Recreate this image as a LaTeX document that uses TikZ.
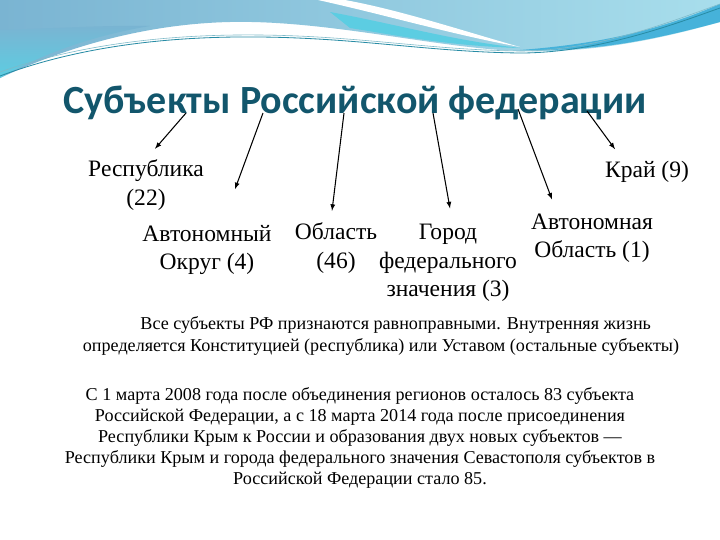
\documentclass[tikz,border=0pt]{standalone}
\usepackage{fontspec}
\setmainfont{Liberation Serif}
\newfontfamily\titlefont{Carlito}
\usetikzlibrary{calc}

\definecolor{titleteal}{RGB}{18,86,108}
\definecolor{bandsteel}{RGB}{122,180,210}
\definecolor{bandlight}{RGB}{168,222,236}
\definecolor{bandcyan}{RGB}{92,205,226}
\definecolor{banddeep}{RGB}{70,178,218}
\definecolor{bandline}{RGB}{40,140,165}

\begin{document}
\begin{tikzpicture}[x=0.85pt,y=-0.85pt,
	every node/.style={align=center,font=\fontsize{20}{24}\selectfont},
	small/.style={font=\fontsize{15.4}{18}\selectfont},
	arr/.style={-latex,line width=0.9pt}]
	\useasboundingbox (0,0) rectangle (720,540);
	\fill[white] (0,0) rectangle (720,540);
	\shade[left color=bandsteel,right color=bandlight] (0,0) -- (720,0) -- (720,22) .. controls (640,45) and (570,55) .. (500,50) .. controls (420,44) and (320,20) .. (230,22) .. controls (140,24) and (60,50) .. (0,78) -- cycle;
	\shade[top color=bandsteel,bottom color=bandcyan] (0,30) .. controls (60,28) and (110,25) .. (150,26) .. controls (90,36) and (40,55) .. (0,78) -- cycle;
	\fill[bandcyan] (330,12) .. controls (400,25) and (450,40) .. (520,48) .. controls (450,46) and (400,36) .. (350,28) -- cycle;
	\fill[banddeep] (520,50) .. controls (600,52) and (660,38) .. (720,22) -- (720,4) .. controls (660,30) and (600,44) .. (520,50) -- cycle;
	\fill[white] (318,0) .. controls (390,16) and (450,34) .. (520,47) .. controls (460,30) and (400,10) .. (345,0) -- cycle;
	\draw[bandline,line width=0.7pt] (0,76) .. controls (80,46) and (170,36) .. (260,37) .. controls (360,38) and (430,52) .. (520,53) .. controls (600,53) and (680,22) .. (720,8);
	\draw[bandline!60,line width=0.5pt] (0,72) .. controls (80,44) and (170,34) .. (260,35) .. controls (360,36) and (430,50) .. (520,51) .. controls (600,51) and (680,18) .. (720,4);

	\node(title) [anchor=base,font=\titlefont\bfseries\fontsize{34}{38}\selectfont,text=titleteal] at (355,113) {Субъекты Российской федерации};
	\node(rep) at (146,185) {Республика\\(22)};
	\node(ao) at (207,250) {Автономный\\Округ (4)};
	\node(obl) at (336,248) {Область\\(46)};
	\node(city) at (448,263) {Город\\федерального\\значения (3)};
	\node(aobl) at (592,238) {Автономная\\Область (1)};
	\node(kray) at (647,172) {Край (9)};
	\node(equal) [small] at (381,336) {\hspace*{25pt}Все субъекты РФ признаются равноправными. Внутренняя жизнь\\определяется Конституцией (республика) или Уставом (остальные субъекты)};
	\node(count) [small] at (360,438) {С 1 марта 2008 года после объединения регионов осталось 83 субъекта\\Российской Федерации, а с 18 марта 2014 года после присоединения\\Республики Крым к России и образования двух новых субъектов —\\Республики Крым и города федерального значения Севастополя субъектов в\\Российской Федерации стало 85.};

	\coordinate(t1) at (186,113);
	\coordinate(t2) at (263,113);
	\coordinate(t3) at (344,113);
	\coordinate(t4) at (433,113);
	\coordinate(t5) at (518,109);
	\coordinate(t6) at (587,111);

	\draw[arr] (t1) --($(rep.north)+(9,-7)$);
	\draw[arr] (t2) --($(ao.north)+(28,-32)$);
	\draw[arr] (t3) --($(obl.north)+(-4,-8)$);
	\draw[arr] (t4) --($(city.north)+(2,-12)$);
	\draw[arr] (t5) --($(aobl.north)+(-40,-10)$);
	\draw[arr] (t6) --($(kray.north)+(-32,-8)$);
\end{tikzpicture}
\end{document}
